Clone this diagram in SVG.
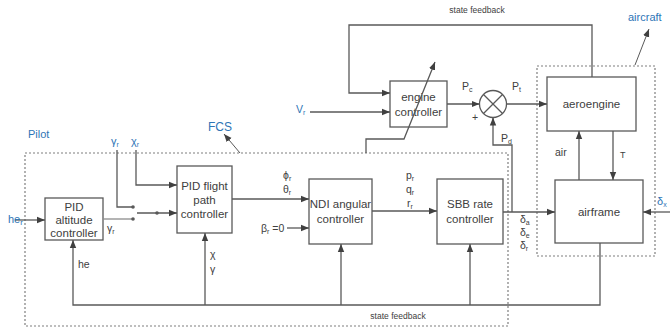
<svg xmlns="http://www.w3.org/2000/svg" width="670" height="331" viewBox="0 0 670 331">
<defs>
<marker id="ah" viewBox="0 0 10 10" refX="10" refY="5" markerWidth="8" markerHeight="8" markerUnits="userSpaceOnUse" orient="auto">
<path d="M0,1 L10,5 L0,9 z" fill="#404040"/>
</marker>
<style>
.box{fill:#fff;stroke:#595959;stroke-width:1.3}
.ln{fill:none;stroke:#595959;stroke-width:1.3}
.dash{fill:none;stroke:#7f7f7f;stroke-width:1.2;stroke-dasharray:2 2}
.t{font-family:"Liberation Sans",Arial,sans-serif;font-size:11.5px;fill:#404040;text-anchor:middle}
.s{font-family:"Liberation Sans",Arial,sans-serif;font-size:10.5px;fill:#404040}
.sm{font-family:"Liberation Sans",Arial,sans-serif;font-size:8.5px;fill:#404040;text-anchor:middle}
.b{font-family:"Liberation Sans",Arial,sans-serif;font-size:11px;fill:#2e75b6}
.dot{fill:#595959}
</style>
</defs>
<rect width="670" height="331" fill="#fff"/>

<!-- boundaries -->
<g id="fcs-boundary">
<rect class="dash" x="25" y="153" width="483" height="173"/>
<text class="b" x="208" y="131" style="font-size:12px">FCS</text>
<line class="ln" x1="240" y1="153" x2="224" y2="134" marker-end="url(#ah)" style="stroke-width:1"/>
</g>
<g id="aircraft-boundary">
<rect class="dash" x="537" y="66" width="118" height="190"/>
<text class="b" x="628" y="21">aircraft</text>
<line class="ln" x1="635" y1="65" x2="649" y2="29" marker-end="url(#ah)" style="stroke-width:1"/>
</g>
<text class="b" x="28" y="138">Pilot</text>

<!-- nodes -->
<g id="pid-altitude">
<rect class="box" x="45" y="198" width="58" height="42"/>
<text class="t" x="74" y="211">PID</text>
<text class="t" x="74" y="224">altitude</text>
<text class="t" x="74" y="237">controller</text>
</g>
<g id="pid-flight-path">
<rect class="box" x="177" y="166" width="55" height="67"/>
<text class="t" x="204.5" y="190">PID flight</text>
<text class="t" x="204.5" y="204">path</text>
<text class="t" x="204.5" y="218">controller</text>
</g>
<g id="ndi">
<rect class="box" x="309" y="179" width="63" height="65"/>
<text class="t" x="340.5" y="208">NDI angular</text>
<text class="t" x="340.5" y="223">controller</text>
</g>
<g id="sbb">
<rect class="box" x="437" y="179" width="66" height="65"/>
<text class="t" x="470" y="208">SBB rate</text>
<text class="t" x="470" y="223">controller</text>
</g>
<g id="engine-controller">
<rect class="box" x="390" y="81" width="57" height="46"/>
<text class="t" x="418.5" y="101">engine</text>
<text class="t" x="418.5" y="116">controller</text>
</g>
<g id="sum">
<circle cx="493" cy="104" r="13.5" fill="#fff" stroke="#595959" stroke-width="1.3"/>
<line class="ln" x1="483.5" y1="94.5" x2="502.5" y2="113.5"/>
<line class="ln" x1="502.5" y1="94.5" x2="483.5" y2="113.5"/>
</g>
<g id="aeroengine">
<rect class="box" x="547" y="77" width="89" height="54"/>
<text class="t" x="591.5" y="108">aeroengine</text>
</g>
<g id="airframe">
<rect class="box" x="555" y="180" width="88" height="63"/>
<text class="t" x="599" y="216">airframe</text>
</g>

<!-- connectors -->
<g id="connectors">
<!-- he_r input -->
<line class="ln" x1="15" y1="220" x2="45" y2="220" marker-end="url(#ah)"/>
<!-- altitude output to switch -->
<line class="ln" x1="103" y1="219" x2="132" y2="219" style="stroke:#8c8c8c"/>
<!-- gamma_r pilot -->
<polyline class="ln" points="117,150 117,207 132,207"/>
<circle class="dot" cx="133" cy="207" r="1.8"/>
<circle class="dot" cx="133" cy="219" r="1.8"/>
<!-- switch output -->
<line class="ln" x1="137" y1="213" x2="177" y2="213" marker-end="url(#ah)"/>
<circle class="dot" cx="157" cy="213" r="1.8"/>
<!-- chi_r -->
<polyline class="ln" points="136,150 136,185 177,185" marker-end="url(#ah)"/>
<!-- flight path -> NDI -->
<line class="ln" x1="232" y1="199" x2="309" y2="199" marker-end="url(#ah)"/>
<!-- beta_r -->
<line class="ln" x1="287" y1="228" x2="309" y2="228" marker-end="url(#ah)"/>
<!-- NDI -> SBB -->
<line class="ln" x1="372" y1="211" x2="437" y2="211" marker-end="url(#ah)"/>
<!-- SBB -> airframe -->
<line class="ln" x1="503" y1="212" x2="555" y2="212" marker-end="url(#ah)"/>
<!-- Pd branch -->
<polyline class="ln" points="512,212 512,145 493,145 493,117.5" marker-end="url(#ah)"/>
<!-- delta_x -->
<line class="ln" x1="670" y1="212" x2="643" y2="212" marker-end="url(#ah)"/>
<!-- bottom state feedback -->
<polyline class="ln" points="600,243 600,305 73,305 73,240" marker-end="url(#ah)"/>
<line class="ln" x1="205" y1="305" x2="205" y2="233" marker-end="url(#ah)"/>
<line class="ln" x1="341" y1="305" x2="341" y2="244" marker-end="url(#ah)"/>
<line class="ln" x1="470" y1="305" x2="470" y2="244" marker-end="url(#ah)"/>
<!-- air / T -->
<line class="ln" x1="579" y1="180" x2="579" y2="131" marker-end="url(#ah)"/>
<line class="ln" x1="613" y1="131" x2="613" y2="180" marker-end="url(#ah)"/>
<!-- top state feedback -->
<polyline class="ln" points="592,77 592,25 349,25 349,93 390,93" marker-end="url(#ah)"/>
<!-- V_r -->
<line class="ln" x1="310" y1="112" x2="390" y2="112" marker-end="url(#ah)"/>
<!-- Pc -->
<line class="ln" x1="447" y1="104" x2="479.5" y2="104" marker-end="url(#ah)"/>
<!-- Pt -->
<line class="ln" x1="506.5" y1="104" x2="547" y2="104" marker-end="url(#ah)"/>
<!-- FCS command to engine controller (oblique) -->
<polyline class="ln" points="366,153 366,139 404,139 435,62" marker-end="url(#ah)"/>
</g>

<!-- labels -->
<g id="labels">
<text class="b" x="8" y="223">he<tspan font-size="8" dy="2">r</tspan></text>
<text class="b" x="111" y="145">γ<tspan font-size="7" dy="2">r</tspan></text>
<text class="b" x="131" y="145">χ<tspan font-size="7" dy="2">r</tspan></text>
<text class="s" x="107" y="232">γ<tspan font-size="7" dy="2">r</tspan></text>
<text class="s" x="78" y="268">he</text>
<text class="s" x="210" y="258">χ</text>
<text class="s" x="210" y="273">γ</text>
<text class="s" x="283" y="179">ϕ<tspan font-size="7" dy="2">r</tspan></text>
<text class="s" x="283" y="193">θ<tspan font-size="7" dy="2">r</tspan></text>
<text class="s" x="261" y="232">β<tspan font-size="7" dy="2">r</tspan><tspan dy="-2"> =0</tspan></text>
<text class="s" x="406" y="179">p<tspan font-size="7" dy="2">r</tspan></text>
<text class="s" x="406" y="193">q<tspan font-size="7" dy="2">r</tspan></text>
<text class="s" x="407" y="207">r<tspan font-size="7" dy="2">r</tspan></text>
<text class="s" x="520" y="223">δ<tspan font-size="7" dy="2">a</tspan></text>
<text class="s" x="520" y="236">δ<tspan font-size="7" dy="2">e</tspan></text>
<text class="s" x="520" y="249">δ<tspan font-size="7" dy="2">r</tspan></text>
<text class="b" x="657" y="205">δ<tspan font-size="7" dy="2">x</tspan></text>
<text class="s" x="296" y="113" style="fill:#2e75b6">V<tspan font-size="7" dy="2">r</tspan></text>
<text class="s" x="462" y="90">P<tspan font-size="7" dy="2">c</tspan></text>
<text class="s" x="512" y="90">P<tspan font-size="7" dy="2">t</tspan></text>
<text class="s" x="501" y="142">P<tspan font-size="7" dy="2">d</tspan></text>
<text class="s" x="472" y="121">+</text>
<text class="s" x="555" y="156">air</text>
<text class="s" x="620" y="158" style="font-size:9px">T</text>
<text class="sm" x="477" y="13">state feedback</text>
<text class="sm" x="398" y="319">state feedback</text>
</g>
</svg>
